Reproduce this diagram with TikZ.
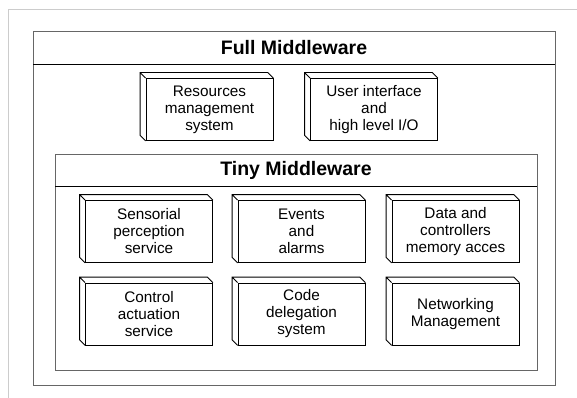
\documentclass[tikz,border=0pt]{standalone}
\usepackage{fontspec}
\setmainfont{Liberation Sans}
\usetikzlibrary{positioning}

\begin{document}
\begin{tikzpicture}[x=1pt,y=-1pt,line width=0.8pt,
  unit/.style={rectangle,draw=black,align=center,inner sep=0pt,
    minimum width=127pt,minimum height=62pt,font=\fontsize{15.3}{17}\selectfont},
  layer/.style={draw=black!60,line width=1pt},
  title/.style={font=\fontsize{19.5}{21}\selectfont\bfseries}]
\useasboundingbox (0,0) rectangle (577,398);
\draw[black!20,line width=1pt] (8,398) -- (8,10) -- (577,10);

% full middleware
\draw[layer] (33,32) rectangle (555,385);
\draw (33,64) -- (555,64);
\node[title] (full) at (294,48) {Full Middleware};
\node[unit] (res) at (209.5,109.5) {Resources\\management\\system};
\node[unit] (ui) at (374,109.5) {User interface\\and\\high level I/O};

% tiny middleware
\draw[layer] (55,154) rectangle (537,370);
\draw (55,186) -- (537,186);
\node[title] (tiny) at (296,170) {Tiny Middleware};
\node[unit] (sens) at (149,231.5) {Sensorial\\perception\\service};
\node[unit] (evt) at (301.5,231.5) {Events\\and\\alarms};
\node[unit] (data) at (455.5,231.5) {Data and\\controllers\\memory acces};
\node[unit] (ctrl) at (149,314) {Control\\actuation\\service};
\node[unit] (code) at (301.5,314) {Code\\delegation\\system};
\node[unit] (net) at (455.5,314) {Networking\\Management};

% depth of the boxes
\foreach \n in {res,ui,sens,evt,data,ctrl,code,net}
  \draw (\n.south west) -- ++(-5.5,-5.5) |- ([shift={(-5.5,-5.5)}]\n.north east) -- (\n.north east)
        (\n.north west) -- ++(-5.5,-5.5);
\end{tikzpicture}
\end{document}
